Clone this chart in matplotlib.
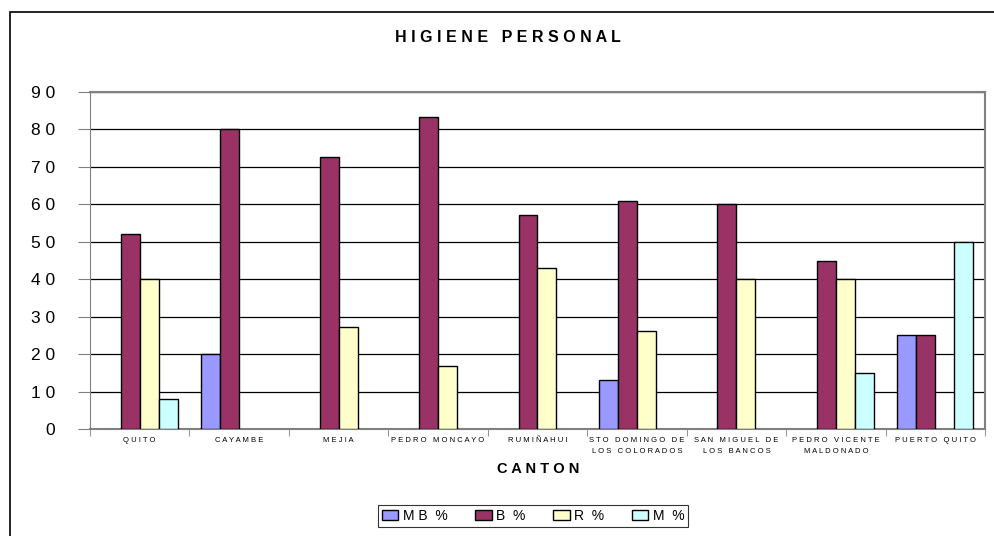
import matplotlib.pyplot as plt
import numpy as np
from matplotlib.patches import Rectangle

plt.rcParams['font.family'] = ['Liberation Sans', 'DejaVu Sans']

cantones = ['QUITO', 'CAYAMBE', 'MEJIA', 'PEDRO MONCAYO', 'RUMIÑAHUI',
            'STO DOMINGO DE\nLOS COLORADOS', 'SAN MIGUEL DE\nLOS BANCOS',
            'PEDRO VICENTE\nMALDONADO', 'PUERTO QUITO']
mb = [0, 20, 0, 0, 0, 13, 0, 0, 25]
b = [52, 80, 72.7, 83.3, 57.1, 60.9, 60, 45, 25]
r = [40, 0, 27.3, 16.7, 42.9, 26.1, 40, 40, 0]
m = [8, 0, 0, 0, 0, 0, 0, 15, 50]
series = ['M B  %', 'B  %', 'R  %', 'M  %']
colors = ['#9999FF', '#993366', '#FFFFCC', '#CCFFFF']


def spaced(s):
    return '\n'.join(' '.join(line) for line in s.split('\n'))


fig = plt.figure(figsize=(9.95, 5.36), dpi=100)
fig.patches.append(Rectangle((10 / 995, -0.05), 1.2, 1 - 12 / 536 + 0.05,
                             transform=fig.transFigure, fill=False,
                             edgecolor='black', linewidth=1.2))
ax = fig.add_axes([90 / 995, 1 - 429 / 536, 895 / 995, 337 / 536])

x = np.arange(len(cantones))
w = 0.19
for i, (vals, col, lab) in enumerate(zip([mb, b, r, m], colors, series)):
    pos = x + (i - 1.5) * w
    vals = np.array(vals, dtype=float)
    ax.bar(pos[vals > 0], vals[vals > 0], width=w, color=col,
           edgecolor='black', linewidth=1.0, zorder=3, label=lab)

ax.set_xlim(-0.5, len(cantones) - 0.5)
ax.set_ylim(0, 90)
ax.set_yticks(range(0, 91, 10))
ax.set_yticklabels([spaced(str(v)) for v in range(0, 91, 10)], fontsize=12.5)
ax.yaxis.grid(True, color='black', linewidth=0.9, zorder=0)
ax.set_axisbelow(True)

ax.set_xticks(x)
ax.set_xticklabels([spaced(c) for c in cantones], fontsize=5.5, linespacing=1.8)
ax.set_xticks(np.arange(-0.5, len(cantones), 1), minor=True)
ax.tick_params(axis='x', which='major', length=0, pad=6)
ax.tick_params(axis='x', which='minor', length=5, color='gray')
ax.tick_params(axis='y', length=9, color='gray', pad=16)

for s in ['top', 'right']:
    ax.spines[s].set_color('gray')
    ax.spines[s].set_linewidth(1.5)
ax.spines['left'].set_color('gray')
ax.spines['bottom'].set_color('gray')
ax.spines['bottom'].set_linewidth(1.5)

fig.text(508 / 995, 1 - 38 / 536, spaced('HIGIENE PERSONAL'), ha='center', va='center',
         fontsize=11.5, fontweight='bold')
fig.text(538 / 995, 1 - 469 / 536, spaced('CANTON'), ha='center', va='center',
         fontsize=10.5, fontweight='bold')

leg = fig.legend(loc='center', bbox_to_anchor=(533 / 995, 1 - 516 / 536), ncol=4,
                 frameon=True, fancybox=False, edgecolor='black', fontsize=10,
                 handlelength=1.2, handleheight=0.8, columnspacing=2.0,
                 handletextpad=0.3, borderpad=0.3)
leg.get_frame().set_linewidth(0.8)

fig.savefig('out.png', dpi=100)
